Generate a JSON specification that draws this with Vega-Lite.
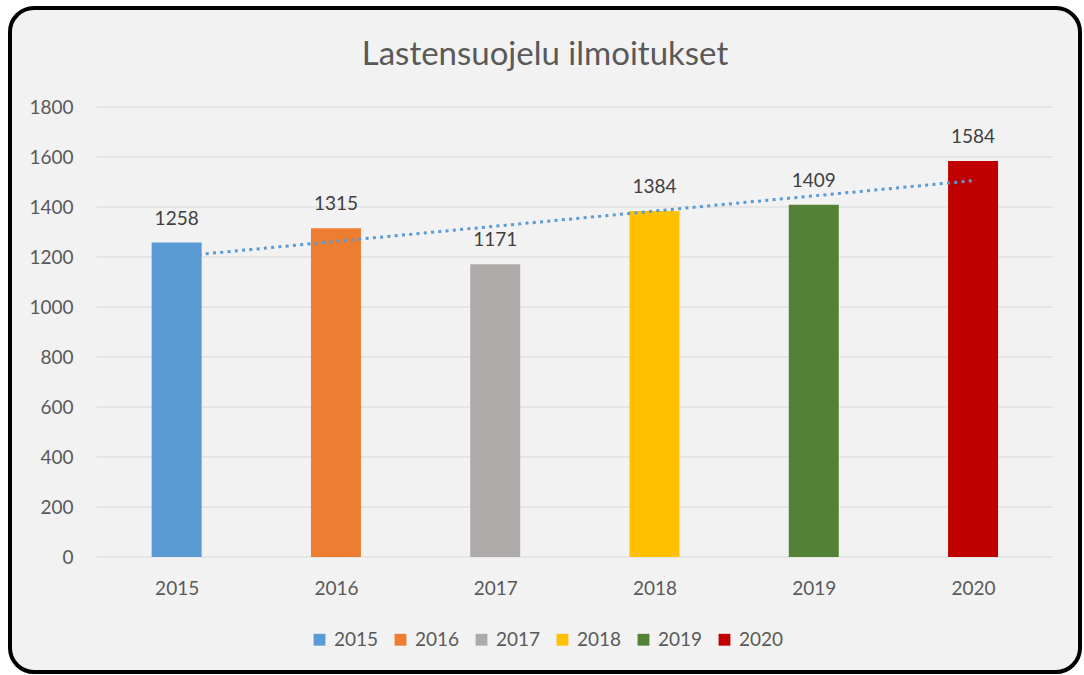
{
  "$schema": "https://vega.github.io/schema/vega-lite/v6.json",
  "autosize": {"type": "none"},
  "width": 1070,
  "height": 664,
  "padding": {"left": 10, "top": 8, "right": 4, "bottom": 3},
  "background": "white",
  "title": {"text": "Lastensuojelu ilmoitukset", "offset": -64, "fontSize": 33, "font": "Lato", "fontWeight": "normal", "color": "#595959", "anchor": "middle"},
  "config": {
    "view": {"stroke": "#000000", "strokeWidth": 4, "cornerRadius": 24, "fill": "#f2f2f2"},
    "font": "Lato",
    "axis": {"labelFont": "Lato", "labelFontSize": 19, "labelColor": "#595959", "domain": false, "ticks": false, "grid": false, "title": null},
    "legend": {"labelFont": "Lato", "labelFontSize": 19, "labelColor": "#595959"}
  },
  "datasets": {
    "counts": [
      {"year": 2015, "value": 1258},
      {"year": 2016, "value": 1315},
      {"year": 2017, "value": 1171},
      {"year": 2018, "value": 1384},
      {"year": 2019, "value": 1409},
      {"year": 2020, "value": 1584}
    ],
    "gridlines": [
      {"g": 0}, {"g": 200}, {"g": 400}, {"g": 600}, {"g": 800},
      {"g": 1000}, {"g": 1200}, {"g": 1400}, {"g": 1600}, {"g": 1800}
    ]
  },
  "layer": [
    {
      "data": {"name": "gridlines"},
      "mark": {"type": "rule", "color": "#d9d9d9", "strokeWidth": 1},
      "encoding": {
        "y": {"field": "g", "type": "quantitative", "scale": {"domain": [-460, 2196], "nice": false, "zero": false},
              "axis": {"orient": "left", "offset": -85, "labelPadding": 22, "format": "d", "values": [0, 200, 400, 600, 800, 1000, 1200, 1400, 1600, 1800], "title": null}},
        "x": {"datum": 2014.5, "type": "quantitative", "scale": {"domain": [2013.985, 2020.64], "nice": false, "zero": false},
              "axis": {"orient": "bottom", "offset": -115, "labelPadding": 22, "values": [2015, 2016, 2017, 2018, 2019, 2020], "format": "d", "title": null}},
        "x2": {"datum": 2020.5}
      }
    },
    {
      "data": {"name": "counts"},
      "mark": {"type": "bar", "size": 50},
      "encoding": {
        "x": {"field": "year", "type": "quantitative"},
        "y": {"field": "value", "type": "quantitative"},
        "y2": {"datum": 0},
        "color": {"field": "year", "type": "nominal",
                  "scale": {"domain": [2015, 2016, 2017, 2018, 2019, 2020], "range": ["#5b9bd5", "#ed7d31", "#aeaaaa", "#ffc000", "#538135", "#c00000"]},
                  "legend": {"title": null, "orient": "none", "direction": "horizontal", "legendX": 300, "legendY": 622, "symbolType": "square", "symbolSize": 140, "symbolStrokeWidth": 0, "columnPadding": 12, "labelOffset": 5}}
      }
    },
    {
      "data": {"name": "counts"},
      "mark": {"type": "text", "dy": -24, "baseline": "middle", "fontSize": 19, "color": "#404040", "font": "Lato"},
      "encoding": {
        "x": {"field": "year", "type": "quantitative"},
        "y": {"field": "value", "type": "quantitative"},
        "text": {"field": "value", "type": "quantitative", "format": "d"}
      }
    },
    {
      "data": {"name": "counts"},
      "transform": [{"regression": "value", "on": "year", "extent": [2015, 2020]}],
      "mark": {"type": "line", "color": "#5b9bd5", "strokeWidth": 3, "strokeDash": [3, 4.3]},
      "encoding": {
        "x": {"field": "year", "type": "quantitative"},
        "y": {"field": "value", "type": "quantitative"}
      }
    }
  ]
}
